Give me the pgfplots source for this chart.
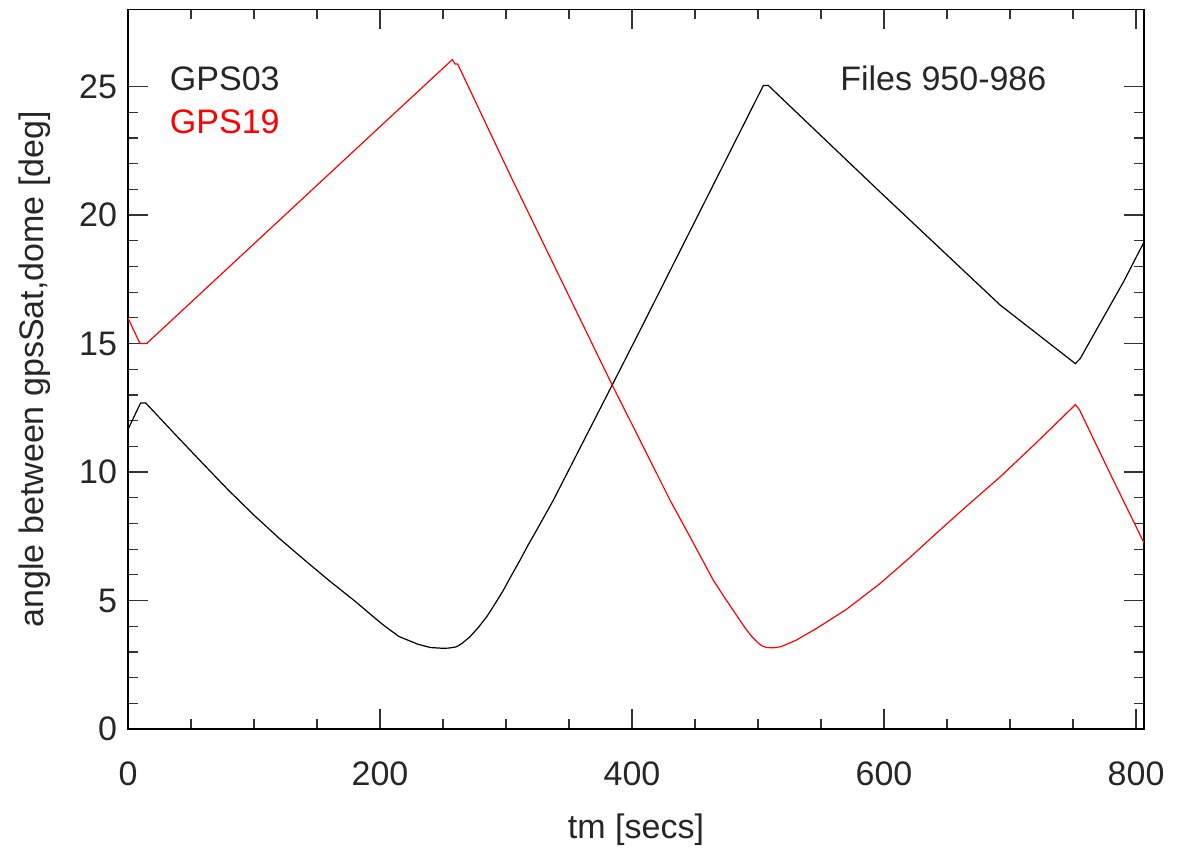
\documentclass[border=0pt]{standalone}
\usepackage{fontspec}
\setmainfont{Liberation Sans}
\usepackage{pgfplots}
\pgfplotsset{compat=1.18}

\begin{document}
\begin{tikzpicture}
\begin{axis}[
    width=508pt, height=359.75pt, scale only axis,
    xmin=0, xmax=806.3, ymin=0, ymax=28,
    xtick={0,200,...,800}, ytick={0,5,...,25},
    minor x tick num=3, minor y tick num=4,
    major tick length=10pt, minor tick length=5pt,
    tick align=inside,
    axis line style={line width=0.7pt},
    every tick/.style={black!80, line width=0.6pt},
    tick label style={font=\fontsize{17}{20}\selectfont, text=black!85},
    label style={font=\fontsize{17}{20}\selectfont, text=black!85},
    /pgf/number format/assume math mode=true,
    xticklabel style={yshift=-13pt},
    yticklabel style={xshift=-2pt},
    xlabel={tm [secs]},
    ylabel={angle between gpsSat,dome [deg]},
    xlabel style={at={(axis description cs:0.5,-0.1404)}, anchor=center},
    ylabel style={at={(axis description cs:-0.0915,0.5)}, anchor=center},
]
% GPS03
\addplot[black, line width=0.6pt] coordinates {
    (0,11.66) (10,12.69) (14,12.69) (40,11.33) (60,10.30) (80,9.28)
    (100,8.32) (120,7.42) (140,6.58) (160,5.76) (180,4.98) (200,4.15)
    (205,3.96) (215,3.60) (230,3.30) (240,3.17) (250,3.14) (255,3.15)
    (260.8,3.20) (265,3.33) (271.4,3.59) (278,3.95) (284.7,4.37) (291,4.85)
    (297.9,5.40) (304,5.95) (311.1,6.57) (318,7.2) (325,7.8) (337.5,8.90)
    (384.1,13.37) (406.3,15.51) (504.2,25.04) (508.2,25.04) (594.2,21.02)
    (692.1,16.5) (751.8,14.22) (755.6,14.41) (789.9,17.39) (806.3,18.95)
};
% GPS19
\addplot[red, line width=0.6pt] coordinates {
    (0,15.99) (9.5,15.0) (14.8,15.0) (200,23.44) (257.4,26.05)
    (259.5,25.88) (261.6,25.88) (305,21.38) (351.6,16.68) (384.4,13.37)
    (406.3,11.24) (430.2,8.90) (446,7.48) (464.5,5.79) (475,5.0)
    (489.9,3.92) (495,3.6) (500,3.35) (503,3.24) (507,3.17) (512,3.16)
    (518,3.2) (530,3.45) (546.6,3.92) (570,4.65) (596.8,5.66) (620,6.65)
    (640,7.55) (665,8.65) (692.1,9.81) (720,11.1) (751.8,12.62) (755,12.43)
    (779.4,9.94) (806.3,7.24)
};
\node[anchor=base west, inner sep=0, font=\fontsize{17}{20}\selectfont, text=black!85] at (axis cs:33,24.84) {GPS03};
\node[anchor=base west, inner sep=0, font=\fontsize{17}{20}\selectfont, text=red] at (axis cs:33,23.17) {GPS19};
\node[anchor=base west, inner sep=0, font=\fontsize{17}{20}\selectfont, text=black!85] at (axis cs:565,24.84) {Files 950-986};
\coordinate (bl) at (rel axis cs:0,0);
\coordinate (tr) at (rel axis cs:1,1);
\end{axis}
\pgfresetboundingbox
\path[use as bounding box] ([shift={(-64pt,-63pt)}]bl) rectangle ([shift={(16.5pt,4.75pt)}]tr);
\end{tikzpicture}
\end{document}
